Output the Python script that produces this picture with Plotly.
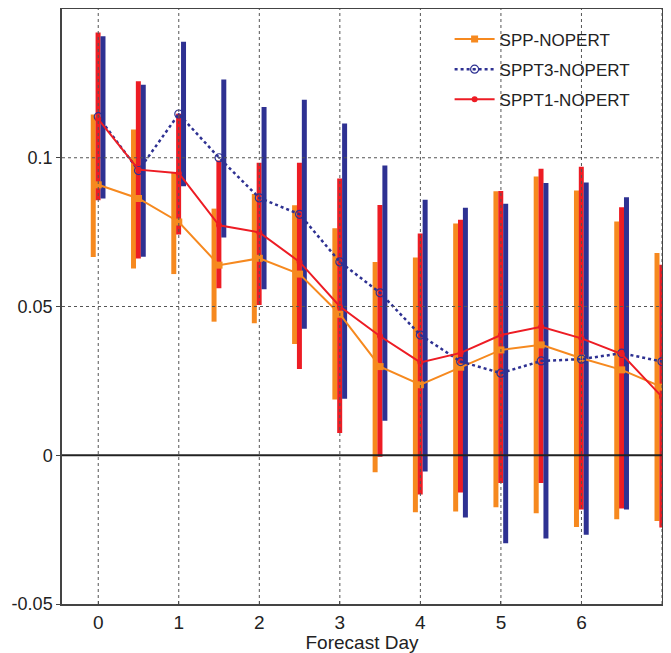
import plotly.graph_objects as go

days = [0, 0.5, 1, 1.5, 2, 2.5, 3, 3.5, 4, 4.5, 5, 5.5, 6, 6.5, 7]

spp_mean = [0.0909, 0.0863, 0.0784, 0.0639, 0.0662, 0.0609, 0.0474, 0.0298, 0.0237, 0.0296, 0.0354, 0.0371, 0.0326, 0.0287, 0.0229]
sppt3_mean = [0.1138, 0.0957, 0.1147, 0.1000, 0.0865, 0.0810, 0.0650, 0.0546, 0.0404, 0.0315, 0.0276, 0.0317, 0.0323, 0.0343, 0.0315]
sppt1_mean = [0.1130, 0.0960, 0.0948, 0.0773, 0.0749, 0.0650, 0.0500, 0.0400, 0.0312, 0.0344, 0.0404, 0.0432, 0.0393, 0.0340, 0.0196]

spp_low = [0.0666, 0.0628, 0.0609, 0.0449, 0.0444, 0.0374, 0.0187, -0.0057, -0.0192, -0.0189, -0.0175, -0.0195, -0.0241, -0.0215, -0.0221]
spp_high = [0.1145, 0.1095, 0.0952, 0.0829, 0.0878, 0.0840, 0.0763, 0.0650, 0.0665, 0.0779, 0.0887, 0.0937, 0.0890, 0.0786, 0.0680]
sppt1_low = [0.0857, 0.0661, 0.0742, 0.0561, 0.0505, 0.0290, 0.0075, -0.0005, -0.0132, -0.0125, -0.0093, -0.0093, -0.0182, -0.0179, -0.0243]
sppt1_high = [0.1421, 0.1257, 0.1148, 0.0991, 0.0983, 0.0983, 0.0930, 0.0841, 0.0745, 0.0792, 0.0888, 0.0963, 0.0970, 0.0834, 0.0640]
sppt3_low = [0.0863, 0.0667, 0.0904, 0.0732, 0.0558, 0.0425, 0.0190, 0.0116, -0.0055, -0.0209, -0.0296, -0.0280, -0.0267, -0.0182, -0.0200]
sppt3_high = [0.1408, 0.1245, 0.1390, 0.1263, 0.1171, 0.1195, 0.1115, 0.0974, 0.0859, 0.0832, 0.0845, 0.0915, 0.0917, 0.0867, 0.0750]

x_ticks = [0, 1, 2, 3, 4, 5, 6, 7]
y_ticks = [-0.05, 0, 0.05, 0.1]
y_ticklabels = ["-0.05", "0", "0.05", "0.1"]
y_grid = [0.05, 0.1]

ORANGE = "#F6891F"
RED = "#ED1C24"
BLUE = "#2E3192"

fig = go.Figure()

bw = 0.062
for low, high, col, off in [
    (spp_low, spp_high, ORANGE, -0.093),
    (sppt1_low, sppt1_high, RED, -0.033),
    (sppt3_low, sppt3_high, BLUE, 0.028),
]:
    fig.add_trace(go.Bar(
        x=days, y=[h - l for h, l in zip(high, low)], base=low,
        width=bw, offset=off, marker=dict(color=col, line=dict(width=0)),
        showlegend=False, hoverinfo="skip",
    ))

fig.add_trace(go.Scatter(
    x=days, y=spp_mean, name="SPP-NOPERT", mode="lines+markers",
    line=dict(color=ORANGE, width=2), marker=dict(symbol="square", size=7, color=ORANGE),
    legendgroup="a",
))
fig.add_trace(go.Scatter(
    x=days, y=sppt3_mean, name="SPPT3-NOPERT", mode="lines+markers",
    line=dict(color=BLUE, width=2.5, dash="dot"),
    marker=dict(symbol="circle-open-dot", size=8, color=BLUE, line=dict(width=1.2)),
    legendgroup="b",
))
fig.add_trace(go.Scatter(
    x=days, y=sppt1_mean, name="SPPT1-NOPERT", mode="lines+markers",
    line=dict(color=RED, width=2), marker=dict(symbol="circle", size=6, color=RED),
    legendgroup="c",
))

shapes = []
for xv in x_ticks:
    shapes.append(dict(type="line", xref="x", yref="paper", x0=xv, x1=xv, y0=0, y1=1,
                       line=dict(color="#555", width=1, dash="dot"), layer="above"))
for yv in y_grid:
    shapes.append(dict(type="line", xref="paper", yref="y", x0=0, x1=1, y0=yv, y1=yv,
                       line=dict(color="#555", width=1, dash="dot"), layer="above"))
shapes.append(dict(type="line", xref="paper", yref="y", x0=0, x1=1, y0=0, y1=0,
                   line=dict(color="#222", width=2), layer="above"))

FONT = "Liberation Sans, Arial, sans-serif"
fig.update_layout(
    width=655, height=645,
    margin=dict(l=54, r=1, t=1, b=49),
    paper_bgcolor="white", plot_bgcolor="white",
    barmode="overlay",
    shapes=shapes,
    font=dict(family=FONT, size=18, color="#222"),
    xaxis=dict(
        range=[-0.45, 7], tickvals=x_ticks, showgrid=False, zeroline=False,
        showline=True, mirror=True, linecolor="#444", linewidth=1.5,
        ticks="inside", ticklen=3, tickcolor="#444",
        title=dict(text="Forecast Day", font=dict(size=19), standoff=3),
        tickfont=dict(size=19), automargin=False,
    ),
    yaxis=dict(
        range=[-0.05, 0.15], tickvals=y_ticks, ticktext=y_ticklabels,
        showgrid=False, zeroline=False,
        showline=True, mirror=True, linecolor="#444", linewidth=1.5,
        ticks="outside", ticklen=4, tickcolor="#444",
        tickfont=dict(size=18), automargin=False,
    ),
    legend=dict(
        x=0.646, y=0.979, xanchor="left", yanchor="top",
        bgcolor="rgba(0,0,0,0)", borderwidth=0,
        font=dict(size=17, color="#222"),
        itemwidth=40, traceorder="grouped", tracegroupgap=5,
    ),
)

fig.write_html("out.html")
